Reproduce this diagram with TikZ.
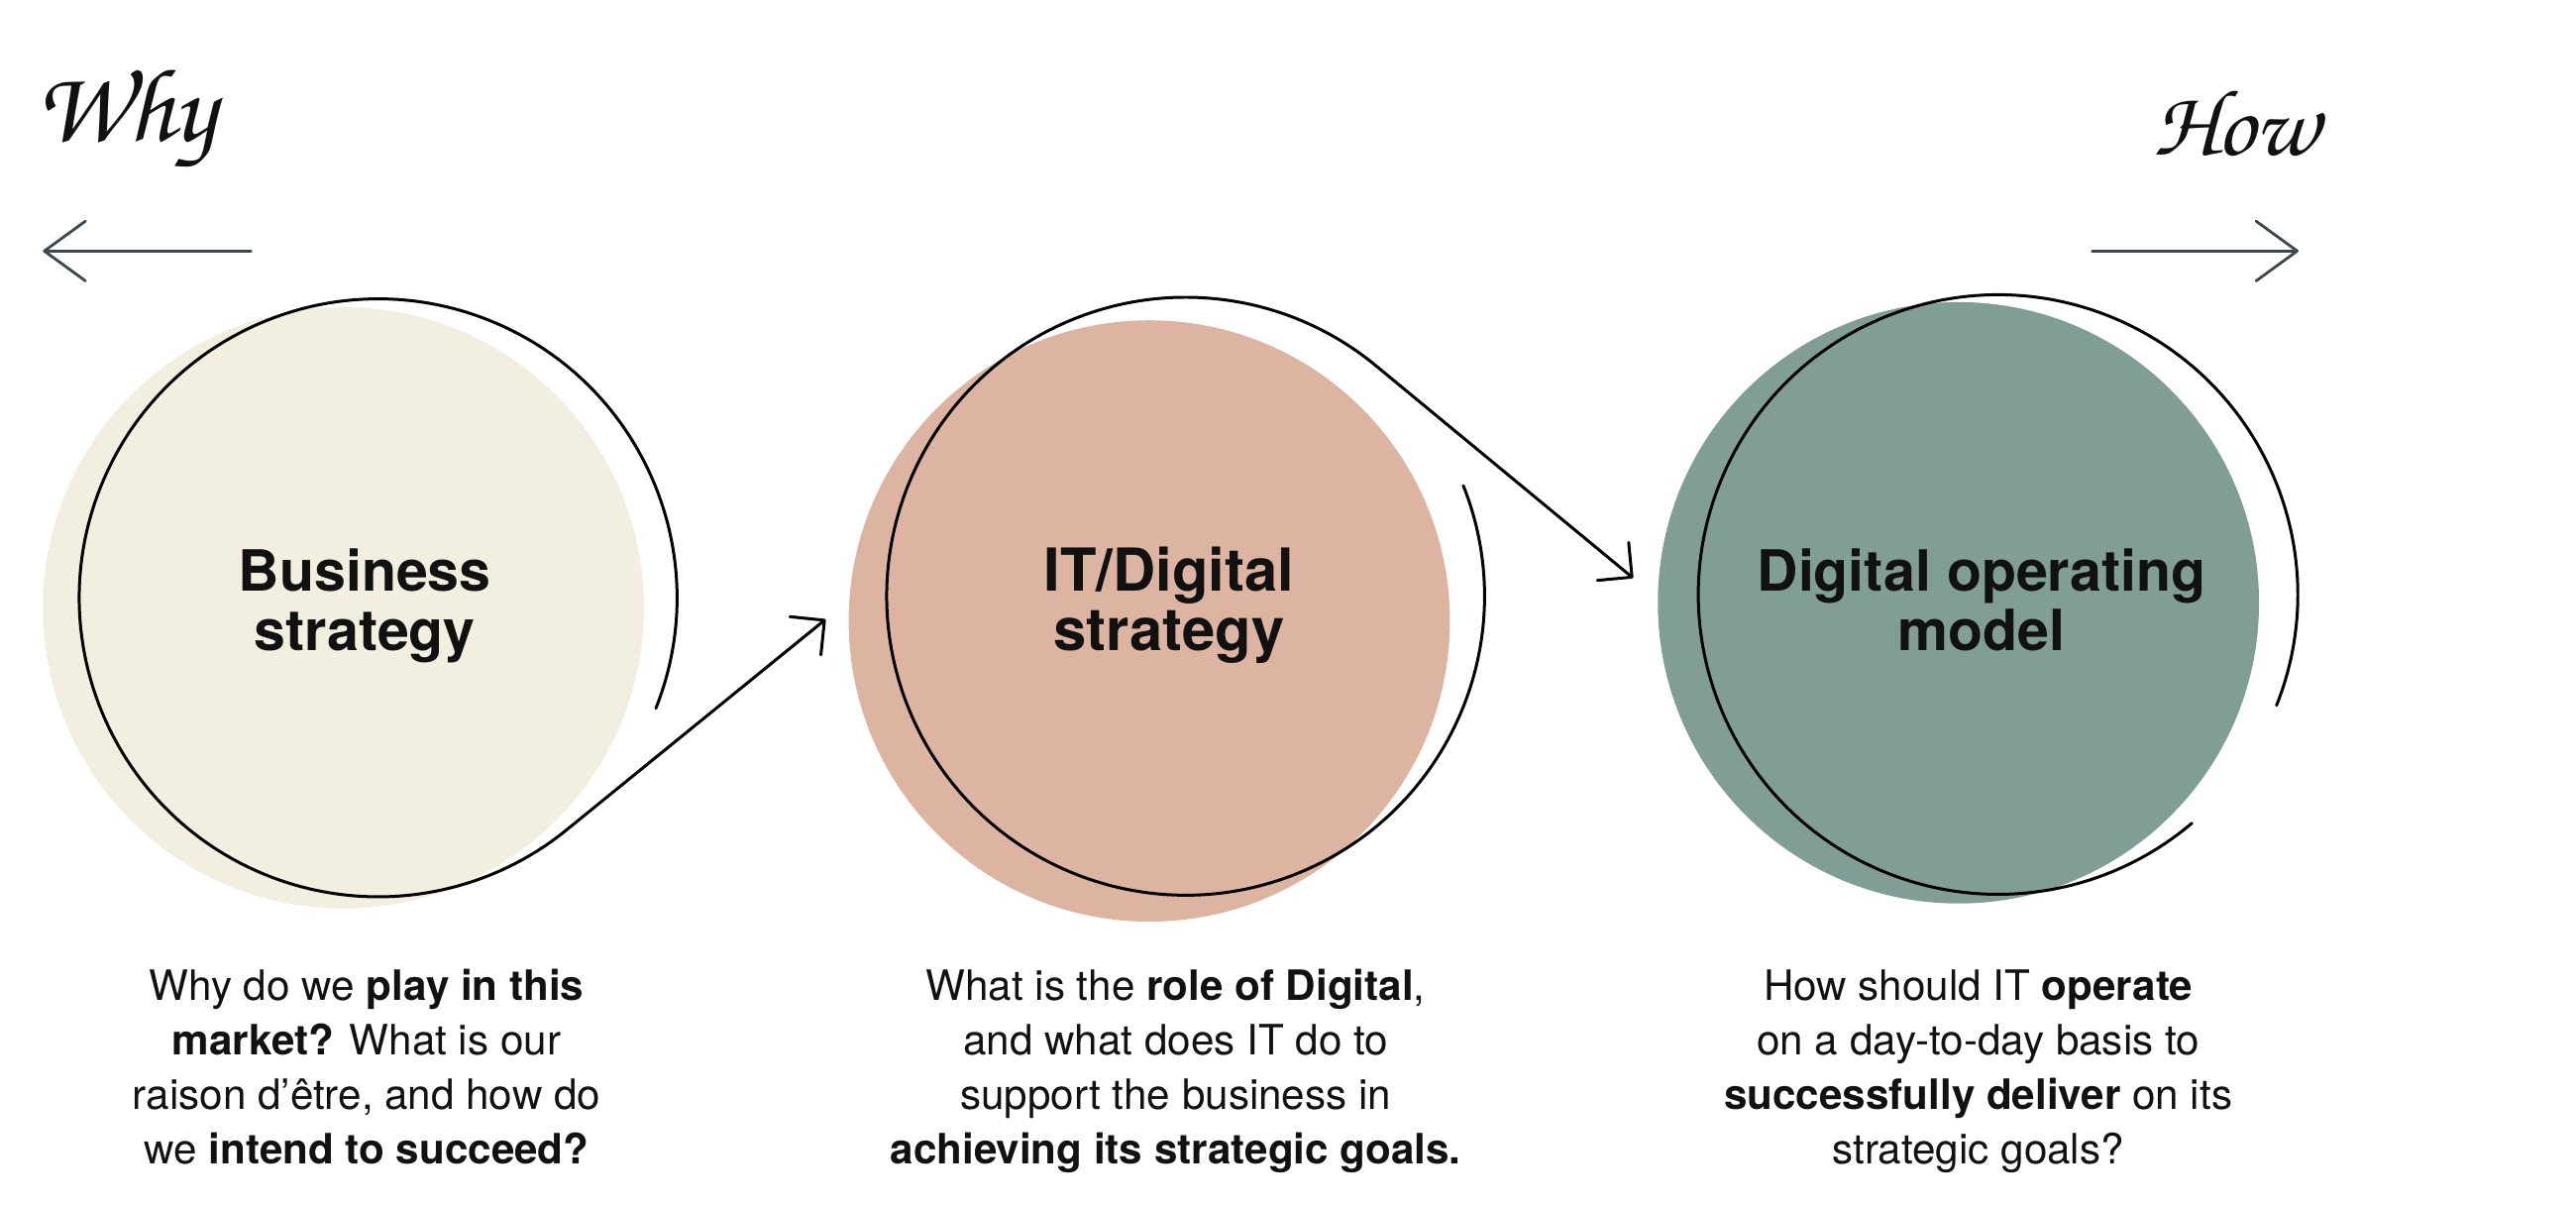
\documentclass[tikz,border=0pt]{standalone}
\usepackage[T1]{fontenc}
\usepackage{fontspec}
\setmainfont{TeX Gyre Heros}
\usetikzlibrary{arrows.meta}
\definecolor{beige}{HTML}{F2EFE0}
\definecolor{pinkfill}{HTML}{DDB3A2}
\definecolor{sage}{HTML}{819E96}
\definecolor{slate}{HTML}{3D474D}
\definecolor{ink}{HTML}{111111}
\newcommand\handfont{\fontencoding{T1}\fontfamily{pzc}\fontseries{mb}\fontshape{it}\selectfont}
\begin{document}
\begin{tikzpicture}[x=0.0166667cm, y=0.0166667cm,
  blob/.style={circle, inner sep=0pt, minimum size=6.0667cm, draw=none},
  ring/.style={draw=black, line width=0.85pt, line cap=round},
  flowtip/.style={-{Straight Barb[angle=90:10pt, round]}},
  guide/.style={draw=slate, line width=0.8pt, line cap=round, -{Straight Barb[angle=72:14.6pt, round]}},
  headb/.style={anchor=base, align=center, text=ink, inner sep=0pt, font=\fontsize{16.3}{17.07}\selectfont\bfseries},
  headr/.style={anchor=base, align=center, text=ink, inner sep=0pt, font=\fontsize{17}{17.07}\selectfont\bfseries},
  body/.style={anchor=base, align=center, text=ink, inner sep=0pt, font=\fontsize{12}{15.65}\selectfont},
  hand/.style={text=ink, inner sep=0pt, font=\handfont\fontsize{30}{30}\selectfont},
  handsm/.style={text=ink, inner sep=0pt, font=\handfont\fontsize{27}{27}\selectfont}]
\useasboundingbox (0,0) rectangle (1560,730);

% filled discs
\node[blob, fill=beige] (f1) at (208,362) {};
\node[blob, fill=pinkfill] (f2) at (696,354) {};
\node[blob, fill=sage] (f3) at (1186,365) {};

% outline centres and arrow tips
\coordinate (c1) at (229,368);
\coordinate (c2) at (718,369);
\coordinate (c3) at (1210,370);
\coordinate (t1) at (500,355);
\coordinate (t2) at (989,380);

% outline rings with connectors
\draw[ring, flowtip] ([shift={(-21.7:181)}]c1) arc[start angle=-21.7, end angle=309.05, radius=181] -- (t1);
\draw[ring, flowtip] ([shift={(21.7:181)}]c2) arc[start angle=21.7, end angle=-309.6, radius=181] -- (t2);
\draw[ring] ([shift={(-21.7:181.5)}]c3) arc[start angle=-21.7, end angle=310.3, radius=181.5];

% headings (base anchor = baseline of the last line)
\node[headb] (h1) at (221,336) {Business\\strategy};
\node[headr] (h2) at (708,336) {IT/Digital\\strategy};
\node[headb] (h3) at (1200,336) {Digital operating\\model};

% body texts
\node[body] (b1) at (222,25) {Why do we \textbf{play in this}\\\textbf{market?} What is our\\raison d’être, and how do\\we \textbf{intend to succeed?}};
\node[body] (b2) at (712,25) {What is the \textbf{role of Digital},\\and what does IT do to\\support the business in\\\textbf{achieving its strategic goals.}};
\node[body] (b3) at (1198,25) {How should IT \textbf{operate}\\on a day-to-day basis to\\\textbf{successfully deliver} on its\\strategic goals?};

% why / how
\node[hand] (why) at (76,657) {Why};
\node[handsm] (how) at (1354,656) {How};
\coordinate (whyS) at (152,578);
\coordinate (whyE) at (26,578);
\coordinate (howS) at (1267,578);
\coordinate (howE) at (1392,578);
\draw[guide] (whyS) -- (whyE);
\draw[guide] (howS) -- (howE);
\end{tikzpicture}
\end{document}
